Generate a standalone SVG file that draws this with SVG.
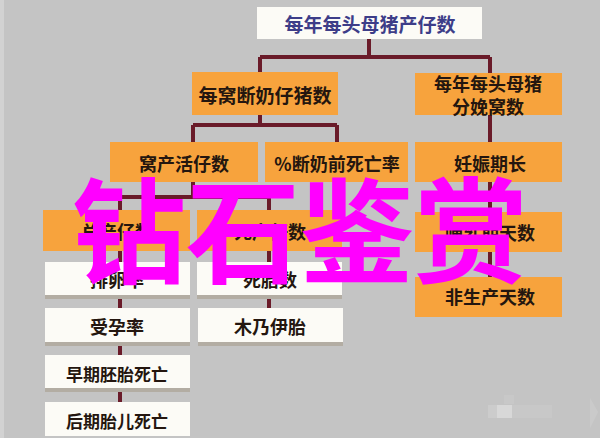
<svg xmlns="http://www.w3.org/2000/svg" width="600" height="438" viewBox="0 0 600 438">
<defs>
<style>
.bg{fill:#c4c4c4}
.org{fill:#f7a33d}
.wht{fill:#fcfbf6}
.shd{fill:#b3ada3}
.t{font-family:"Noto Sans CJK SC","Noto Sans",sans-serif;font-weight:700;text-anchor:middle;dominant-baseline:central;fill:#24160f}
.t18{font-size:18px}
.t17{font-size:17px}
.ttl{font-size:19px;fill:#3d3d88}
.con{fill:none;stroke:#6a1b29;stroke-width:4}
.big{font-family:"Noto Sans CJK SC","Noto Sans",sans-serif;font-weight:700;font-size:114px;fill:#ff00ff;text-anchor:middle}
</style>
<filter id="soft" x="-5%" y="-10%" width="110%" height="120%"><feGaussianBlur stdDeviation="0.7"/></filter>
</defs>
<rect class="bg" x="0" y="0" width="600" height="438"/>
<rect x="0" y="0" width="4" height="438" fill="#d2d2d2"/>

<g id="connectors">
<path class="con" d="M369,39 V57 M260,57 H490 M260,57 V73 M490,57 V74"/>
<path class="con" d="M260,115 V125 M193,125 H337 M193,125 V142 M337,125 V142"/>
<path class="con" d="M490,115 V142"/>
<path class="con" d="M193,182 V197 M120,197 H269 M120,197 V210 M269,197 V210"/>
<path class="con" d="M490,182 V212 M490,252 V277"/>
<path class="con" d="M120,251 V262 M120,296 V308 M120,343 V355 M120,389 V402"/>
<path class="con" d="M269,251 V262 M269,296 V308"/>
</g>

<g id="n1"><rect class="wht" x="257" y="7" width="225" height="32" filter="url(#soft)"/><text class="t ttl" x="370" y="23">每年每头母猪产仔数</text></g>
<g id="n2"><rect class="org" x="192" y="72" width="146" height="43" filter="url(#soft)"/><text class="t" font-size="19" x="265" y="94">每窝断奶仔猪数</text></g>
<g id="n3"><rect class="org" x="415" y="73" width="147" height="42" filter="url(#soft)"/><text class="t t18" x="488" y="83">每年每头母猪</text><text class="t t18" x="488" y="106">分娩窝数</text></g>

<g id="n4"><rect class="org" x="110" y="142" width="148" height="40" filter="url(#soft)"/><text class="t t18" x="184" y="163">窝产活仔数</text></g>
<g id="n5"><rect class="org" x="265" y="142" width="143" height="40" filter="url(#soft)"/><text class="t t18" x="337" y="163">%断奶前死亡率</text></g>
<g id="n6"><rect class="org" x="415" y="142" width="147" height="40" filter="url(#soft)"/><text class="t t18" x="490" y="163">妊娠期长</text></g>

<g id="n7"><rect class="org" x="43" y="210" width="147" height="41" filter="url(#soft)"/><text class="t t18" x="117" y="231">总产仔数</text></g>
<g id="n8"><rect class="org" x="197" y="210" width="145" height="41" filter="url(#soft)"/><text class="t t18" x="270" y="231">死产仔数</text></g>
<g id="n9"><rect class="org" x="415" y="212" width="147" height="40" filter="url(#soft)"/><text class="t t18" x="490" y="232">哺乳期天数</text></g>

<g id="n10"><rect class="shd" x="45" y="294" width="145" height="5"/><rect class="wht" x="45" y="262" width="145" height="33" filter="url(#soft)"/><text class="t t18" x="117" y="279">排卵率</text></g>
<g id="n11"><rect class="shd" x="197" y="294" width="145" height="5"/><rect class="wht" x="197" y="262" width="145" height="33" filter="url(#soft)"/><text class="t t18" x="270" y="279">死胎数</text></g>
<g id="n12"><rect class="org" x="415" y="277" width="147" height="40" filter="url(#soft)"/><text class="t t18" x="490" y="296">非生产天数</text></g>

<g id="n13"><rect class="shd" x="45" y="341" width="145" height="5"/><rect class="wht" x="45" y="308" width="145" height="34" filter="url(#soft)"/><text class="t t18" x="117" y="326">受孕率</text></g>
<g id="n14"><rect class="shd" x="198" y="341" width="145" height="5"/><rect class="wht" x="198" y="308" width="145" height="34" filter="url(#soft)"/><text class="t t18" x="270" y="326">木乃伊胎</text></g>

<g id="n15"><rect class="shd" x="45" y="387" width="145" height="5"/><rect class="wht" x="45" y="355" width="145" height="33" filter="url(#soft)"/><text class="t t17" x="117" y="373">早期胚胎死亡</text></g>
<g id="n16"><rect class="wht" x="45" y="402" width="145" height="34" filter="url(#soft)"/><text class="t t17" x="117" y="420">后期胎儿死亡</text></g>

<g id="watermark" opacity="0.35">
<rect x="497" y="405" width="15" height="13" fill="#ffffff"/>
<rect x="488" y="405" width="9" height="13" fill="#dcdcdc"/>
<rect x="512" y="405" width="40" height="13" fill="#d2d2d2"/>
<rect x="504" y="395" width="10" height="9" fill="#d0d0d0"/>
<path d="M590,398 L598,412 L590,428 Z" fill="#d6d6d6"/>
</g>

<text class="big" x="300" y="274">钻石鉴赏</text>
</svg>
